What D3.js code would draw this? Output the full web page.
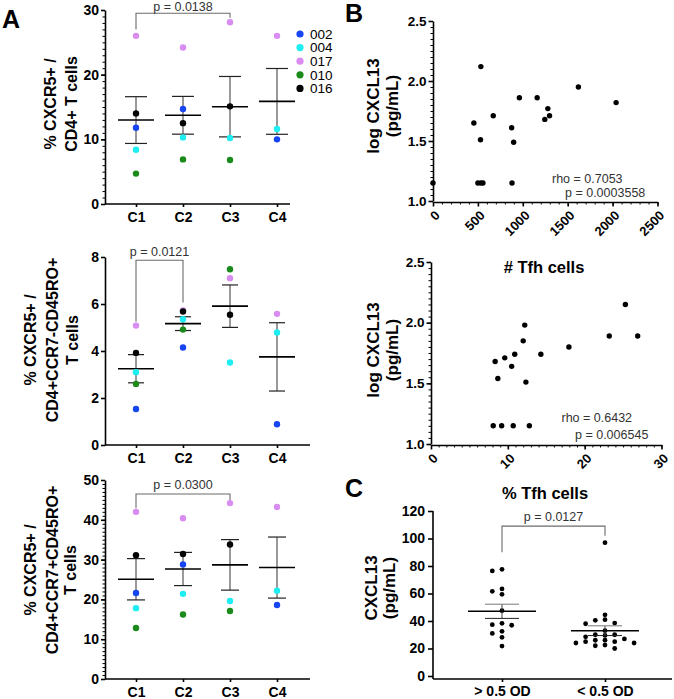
<!DOCTYPE html>
<html>
<head>
<meta charset="utf-8">
<script src="https://cdn.jsdelivr.net/npm/d3@7"></script>
<style>
  body { margin: 0; background: #fff; }
  svg { font-family: "Liberation Sans", Arial, sans-serif; }
  .axis path, .axis line { stroke: #000; stroke-width: 1.6; }
  .axis text { font-weight: bold; fill: #000; }
  .minor line { stroke: #000; stroke-width: 1; }
  .title { font-weight: bold; font-size: 16px; fill: #000; }
  .stat { font-size: 12.5px; fill: #333; }
</style>
</head>
<body>
<script>
// groups and subjects for panel A
var groups = ["C1", "C2", "C3", "C4"];
var subjects = ["002", "004", "017", "010", "016"];

// % CXCR5+ / CD4+ T cells (rows = subjects, cols = groups)
var cxcr5Cd4 = [
  [11.8, 14.7, null, 10.0],
  [8.4, 10.3, 10.2, 11.6],
  [26.0, 24.2, 28.1, 26.0],
  [4.7, 6.9, 6.8, null],
  [14.0, 12.5, 15.1, null]
];
// % CXCR5+ / CD4+CCR7-CD45RO+ T cells
var cxcr5Em = [
  [1.53, 4.15, null, 0.88],
  [3.10, 5.35, 3.51, 4.79],
  [5.08, 5.73, 7.10, 5.58],
  [2.60, 4.91, 7.48, null],
  [3.92, 5.68, 5.54, null]
];
// % CXCR5+ / CD4+CCR7+CD45RO+ T cells
var cxcr5Cm = [
  [21.6, 28.8, null, 18.6],
  [17.8, 21.4, 19.6, 22.2],
  [42.0, 40.4, 44.2, 43.2],
  [12.8, 16.2, 17.1, null],
  [31.1, 31.4, 33.8, null]
];

// panel B
var tfhCount = [0, 533, 455, 529, 500, 533, 556, 671, 876, 898, 880, 962, 1160, 1245, 1279, 1298, 1619, 2039];
var logCxcl13ByCount = [1.15, 2.12, 1.65, 1.51, 1.15, 1.15, 1.15, 1.71, 1.61, 1.49, 1.15, 1.86, 1.86, 1.68, 1.77, 1.71, 1.95, 1.82];
var tfhPercent = [8.1, 9.2, 10.7, 12.8, 8.35, 8.7, 9.6, 10.5, 10.9, 12.0, 12.2, 12.35, 14.3, 17.95, 23.2, 25.3, 26.9];
var logCxcl13ByPercent = [1.15, 1.15, 1.15, 1.15, 1.68, 1.54, 1.71, 1.64, 1.74, 1.85, 1.98, 1.51, 1.74, 1.80, 1.89, 2.15, 1.89];

// panel C
var odGroups = ["> 0.5 OD", "< 0.5 OD"];
var cxcl13High = [77.6, 76.4, 63.3, 61.6, 59.4, 47.5, 38.3, 37.3, 36.9, 32.5, 31.0, 28.1, 21.8];
var cxcl13Low = [97, 44.5, 41, 40.5, 38.5, 38, 33, 30, 30, 29.5, 28.5, 27, 26, 26, 25, 25, 24, 24, 22.5, 22, 20];

var color = d3.scaleOrdinal()
  .domain(subjects)
  .range(["#1845f2", "#1eeef2", "#d98df0", "#1a8a1a", "#050505"]);

var svg = d3.select("body").append("svg")
  .attr("width", 674)
  .attr("height", 699);

function sem(vals) {
  return vals.length > 1 ? d3.deviation(vals) / Math.sqrt(vals.length) : 0;
}

// rotated multi-line y title, xs = baseline x of each line
function yTitle(lines, xs, cy, size) {
  lines.forEach(function (t, i) {
    svg.append("text")
      .attr("class", "title")
      .attr("transform", `translate(${xs[i]},${cy}) rotate(-90)`)
      .attr("text-anchor", "middle")
      .style("font-size", size + "px")
      .text(t);
  });
}

function bracket(x1, x2, yTop, yLeft, yRight, label, labelY) {
  svg.append("path")
    .attr("d", `M${x1},${yLeft}V${yTop}H${x2}V${yRight}`)
    .attr("fill", "none")
    .attr("stroke", "#6b6b6b")
    .attr("stroke-width", 1.1);
  svg.append("text")
    .attr("class", "stat")
    .attr("x", (x1 + x2) / 2)
    .attr("y", labelY)
    .attr("text-anchor", "middle")
    .text(label);
}

// ---------- panel A dot plots ----------
function dotPanel(cfg) {
  var axisX = 105;
  var y = d3.scaleLinear().domain([0, cfg.max]).range([cfg.y0, cfg.y1]);
  var x = d3.scalePoint().domain(groups).range([136, 277]);

  // minor ticks
  svg.append("g")
    .attr("class", "minor")
    .attr("transform", `translate(${axisX},0)`)
    .call(d3.axisLeft(y).tickValues(d3.range(0, cfg.max + 1e-9, cfg.minor)).tickSize(2.5).tickFormat(""))
    .call(g => g.select(".domain").remove());

  svg.append("g")
    .attr("class", "axis")
    .attr("transform", `translate(${axisX},0)`)
    .call(d3.axisLeft(y).tickValues(d3.range(0, cfg.max + 1e-9, cfg.step)).tickSize(4).tickSizeOuter(0).tickPadding(2))
    .call(g => g.selectAll("text").style("font-size", "14px"));

  svg.append("line")
    .attr("x1", axisX).attr("x2", cfg.xEnd)
    .attr("y1", y(0)).attr("y2", y(0))
    .attr("stroke", "#000").attr("stroke-width", 1.6);

  svg.append("g")
    .attr("class", "axis")
    .attr("transform", `translate(0,${y(0)})`)
    .call(d3.axisBottom(x).tickSize(3).tickPadding(5))
    .call(g => g.select(".domain").remove())
    .call(g => g.selectAll("text").style("font-size", "14px"));

  var pts = [];
  cfg.data.forEach(function (row, i) {
    row.forEach(function (v, j) {
      if (v != null) pts.push({ s: subjects[i], g: groups[j], v: v });
    });
  });

  var stats = groups.map(function (gr) {
    var vals = pts.filter(p => p.g === gr).map(p => p.v);
    return { g: gr, m: d3.mean(vals), se: sem(vals) };
  });

  var bars = svg.append("g");
  bars.selectAll("line.err")
    .data(stats).enter().append("line")
    .attr("x1", d => x(d.g)).attr("x2", d => x(d.g))
    .attr("y1", d => y(d.m - d.se)).attr("y2", d => y(d.m + d.se))
    .attr("stroke", "#555").attr("stroke-width", 1.2);
  [1, -1].forEach(function (sgn) {
    bars.selectAll("line.cap" + sgn)
      .data(stats).enter().append("line")
      .attr("x1", d => x(d.g) - cfg.cap / 2).attr("x2", d => x(d.g) + cfg.cap / 2)
      .attr("y1", d => y(d.m + sgn * d.se)).attr("y2", d => y(d.m + sgn * d.se))
      .attr("stroke", "#222").attr("stroke-width", 1.2);
  });
  bars.selectAll("line.mean")
    .data(stats).enter().append("line")
    .attr("x1", d => x(d.g) - 18).attr("x2", d => x(d.g) + 18)
    .attr("y1", d => y(d.m)).attr("y2", d => y(d.m))
    .attr("stroke", "#000").attr("stroke-width", 1.6);

  svg.append("g").selectAll("circle")
    .data(pts).enter().append("circle")
    .attr("cx", d => x(d.g))
    .attr("cy", d => y(d.v))
    .attr("r", 3.2)
    .attr("fill", d => color(d.s));

  var b = cfg.bracket;
  bracket(x(b.from), x(b.to), y(b.top), y(b.left), y(b.right), b.label, b.labelY);

  yTitle(cfg.title, cfg.titleX, cfg.titleY, cfg.titleSize);
}

dotPanel({
  data: cxcr5Cd4, max: 30, step: 10, minor: 1, y0: 204, y1: 10, xEnd: 290, cap: 22,
  bracket: { from: "C1", to: "C3", top: 29.5, left: 27.0, right: 28.8, label: "p = 0.0138", labelY: 10.5 },
  title: ["% CXCR5+ /", "CD4+ T cells"], titleX: [56, 77], titleY: 104, titleSize: 16
});
dotPanel({
  data: cxcr5Em, max: 8, step: 2, minor: 2, y0: 445, y1: 257, xEnd: 310, cap: 16,
  bracket: { from: "C1", to: "C2", top: 7.86, left: 5.24, right: 6.06, label: "p = 0.0121", labelY: 255.5 },
  title: ["% CXCR5+ /", "CD4+CCR7-CD45RO+", "T cells"], titleX: [36, 58, 78], titleY: 340, titleSize: 16
});
dotPanel({
  data: cxcr5Cm, max: 50, step: 10, minor: 1, y0: 679, y1: 480, xEnd: 310, cap: 18,
  bracket: { from: "C1", to: "C3", top: 46.5, left: 42.9, right: 45.0, label: "p = 0.0300", labelY: 489 },
  title: ["% CXCR5+ /", "CD4+CCR7+CD45RO+", "T cells"], titleX: [36, 58, 76], titleY: 570, titleSize: 16
});

// legend
var legend = svg.append("g").selectAll("g")
  .data(subjects).enter().append("g")
  .attr("transform", (d, i) => `translate(300,${34 + i * 13.6})`);
legend.append("circle").attr("r", 3.6).attr("fill", d => color(d));
legend.append("text")
  .attr("x", 10).attr("dy", "0.36em")
  .style("font-size", "13.5px")
  .text(d => d);

// ---------- panel B scatter plots ----------
function scatterPanel(cfg) {
  var x = d3.scaleLinear().domain([0, cfg.xMax]).range([cfg.x0, cfg.x1]);
  var y = d3.scaleLinear().domain([1, 2.5]).range([cfg.y0, cfg.y1]);

  svg.append("g")
    .attr("class", "minor")
    .attr("transform", `translate(${cfg.x0},0)`)
    .call(d3.axisLeft(y).tickValues(d3.range(1, 2.5001, 0.05)).tickSize(2.5).tickFormat(""))
    .call(g => g.select(".domain").remove());
  svg.append("g")
    .attr("class", "axis")
    .attr("transform", `translate(${cfg.x0},0)`)
    .call(d3.axisLeft(y).tickValues([1, 1.5, 2, 2.5]).tickFormat(d3.format(".1f")).tickSize(4.5).tickSizeOuter(0).tickPadding(2))
    .call(g => g.selectAll("text").style("font-size", "13.5px"));

  svg.append("g")
    .attr("class", "minor")
    .attr("transform", `translate(0,${cfg.y0 + 1})`)
    .call(d3.axisBottom(x).tickValues(d3.range(0, cfg.xMax + 1e-9, cfg.xMinor)).tickSize(2.5).tickFormat(""))
    .call(g => g.select(".domain").remove());
  svg.append("g")
    .attr("class", "axis")
    .attr("transform", `translate(0,${cfg.y0 + 1})`)
    .call(d3.axisBottom(x).tickValues(d3.range(0, cfg.xMax + 1e-9, cfg.xStep)).tickFormat(d3.format("d")).tickSize(4.5).tickSizeOuter(0))
    .call(g => g.selectAll("text")
      .attr("y", 0).attr("dy", "0.35em")
      .attr("text-anchor", "end")
      .attr("transform", "translate(4,11) rotate(-45)")
      .style("font-size", "13px"));

  svg.append("g").selectAll("circle")
    .data(cfg.xs).enter().append("circle")
    .attr("cx", d => x(d))
    .attr("cy", (d, i) => y(cfg.ys[i]))
    .attr("r", 2.7)
    .attr("fill", "#000");

  svg.append("text").attr("class", "stat")
    .attr("x", cfg.rho[0]).attr("y", cfg.rho[1]).text(cfg.rho[2]);
  svg.append("text").attr("class", "stat")
    .attr("x", cfg.p[0]).attr("y", cfg.p[1]).text(cfg.p[2]);

  yTitle(["log CXCL13", "(pg/mL)"], [379, 398], cfg.titleY, 17);
}

scatterPanel({
  xs: tfhCount, ys: logCxcl13ByCount, xMax: 2500, xStep: 500, xMinor: 100,
  x0: 433, x1: 657.5, y0: 201, y1: 21, titleY: 106,
  rho: [552, 183, "rho = 0.7053"], p: [565, 196.5, "p = 0.0003558"]
});
scatterPanel({
  xs: tfhPercent, ys: logCxcl13ByPercent, xMax: 30, xStep: 10, xMinor: 1,
  x0: 431, x1: 661.5, y0: 444, y1: 262, titleY: 350,
  rho: [561.5, 421.5, "rho = 0.6432"], p: [575, 438.5, "p = 0.006545"]
});

svg.append("text").attr("class", "title")
  .attr("x", 544).attr("y", 272.5).attr("text-anchor", "middle")
  .style("font-size", "16.5px").text("# Tfh cells");

// ---------- panel C ----------
(function () {
  var axisX = 433;
  var y = d3.scaleLinear().domain([0, 120]).range([676, 511]);
  var x = d3.scalePoint().domain(odGroups).range([502, 605]);

  svg.append("g")
    .attr("class", "axis")
    .attr("transform", `translate(${axisX},0)`)
    .call(d3.axisLeft(y).tickValues(d3.range(0, 121, 20)).tickSize(5).tickSizeOuter(0).tickPadding(3))
    .call(g => g.select(".domain").attr("d", `M0,${y(120)}V679`))
    .call(g => g.selectAll("text").style("font-size", "14px"));

  svg.append("line")
    .attr("x1", axisX).attr("x2", 672).attr("y1", 679).attr("y2", 679)
    .attr("stroke", "#000").attr("stroke-width", 1.6);
  svg.append("g")
    .attr("class", "axis")
    .attr("transform", "translate(0,679)")
    .call(d3.axisBottom(x).tickSize(3).tickPadding(4))
    .call(g => g.select(".domain").remove())
    .call(g => g.selectAll("text").style("font-size", "14px"));

  // simple beeswarm so that close values sit side by side
  function swarm(vals, cx) {
    var placed = [];
    vals.slice().sort((a, b) => b - a).forEach(function (v) {
      var py = y(v);
      for (var k = 0; k < 20; k++) {
        var slot = k === 0 ? 0 : (k % 2 ? -Math.ceil(k / 2) : Math.ceil(k / 2));
        var hit = placed.some(p => p.slot === slot && Math.abs(p.py - py) < 4.6);
        if (!hit) { placed.push({ slot: slot, py: py, cx: cx + slot * 9.7 }); break; }
      }
    });
    return placed;
  }

  [cxcl13High, cxcl13Low].forEach(function (vals, i) {
    var cx = x(odGroups[i]);
    var m = d3.mean(vals), se = sem(vals);
    svg.append("g").selectAll("circle")
      .data(swarm(vals, cx)).enter().append("circle")
      .attr("cx", d => d.cx).attr("cy", d => d.py)
      .attr("r", 2.4).attr("fill", "#000");
    svg.append("line")
      .attr("x1", cx).attr("x2", cx).attr("y1", y(m - se)).attr("y2", y(m + se))
      .attr("stroke", "#444").attr("stroke-width", 1);
    [m - se, m + se].forEach(function (v, j) {
      svg.append("line")
        .attr("x1", cx - 17).attr("x2", cx + 17).attr("y1", y(v)).attr("y2", y(v))
        .attr("stroke", j ? "#777" : "#222").attr("stroke-width", 1);
    });
    svg.append("line")
      .attr("x1", cx - 34).attr("x2", cx + 34).attr("y1", y(m)).attr("y2", y(m))
      .attr("stroke", "#000").attr("stroke-width", 1.6);
  });

  bracket(x(odGroups[0]), x(odGroups[1]), y(109), y(90), y(102), "p = 0.0127", 521);
  yTitle(["CXCL13", "(pg/mL)"], [377, 395], 588, 17);

  svg.append("text").attr("class", "title")
    .attr("x", 545).attr("y", 498.5).attr("text-anchor", "middle")
    .style("font-size", "16.5px").text("% Tfh cells");
})();

// panel letters
[["A", 2, 28], ["B", 345, 22], ["C", 345, 497]].forEach(function (d) {
  svg.append("text")
    .attr("x", d[1]).attr("y", d[2])
    .style("font-weight", "bold").style("font-size", "25px")
    .text(d[0]);
});
</script>
</body>
</html>
